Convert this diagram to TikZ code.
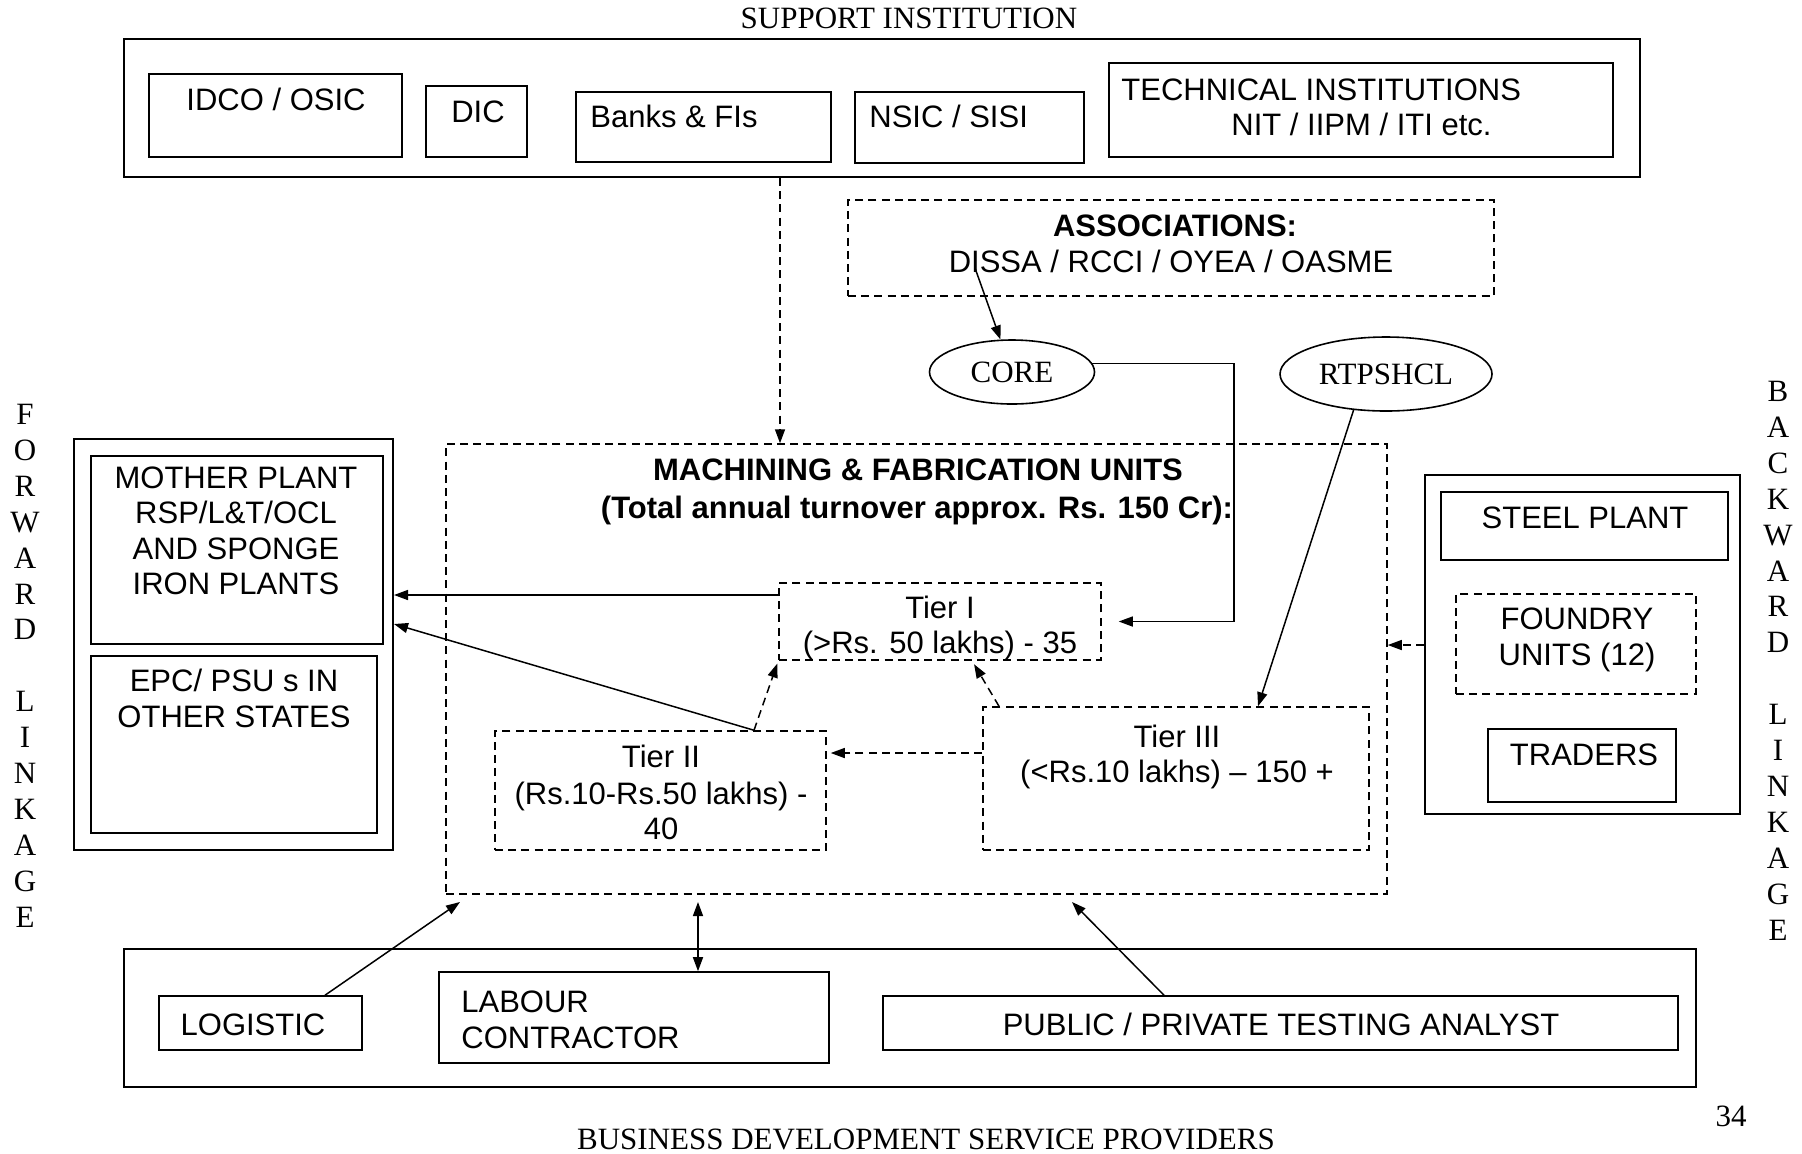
\documentclass[tikz,border=0pt]{standalone}
\usepackage{fontspec}
\setmainfont{Liberation Serif}
\newfontfamily\arialf{Liberation Sans}
\usetikzlibrary{arrows.meta,fit,shapes.geometric}
\tikzset{
 bx/.style={draw, line width=0.8pt, inner sep=0pt, rectangle},
 obx/.style={bx, line width=1pt},
 dbx/.style={draw, line width=0.75pt, dash pattern=on 4pt off 2.6pt, inner sep=0pt, rectangle},
 sf/.style={inner sep=0pt, anchor=base, font=\arialf\fontsize{15.5}{18}\selectfont},
 sfb/.style={inner sep=0pt, anchor=base, font=\arialf\bfseries\fontsize{15.5}{18}\selectfont},
 rm/.style={inner sep=0pt, anchor=base, font=\fontsize{15.5}{18}\selectfont},
 arr/.style={line width=0.75pt, -{Triangle[length=7pt,width=5pt]}},
 darr/.style={arr, dash pattern=on 4pt off 2.6pt},
 dbl/.style={line width=0.75pt, {Triangle[length=7pt,width=5pt]}-{Triangle[length=7pt,width=5pt]}},
 ell/.style={draw, ellipse, line width=0.8pt, inner sep=0pt, font=\fontsize{15.5}{18}\selectfont},
}
\begin{document}
\begin{tikzpicture}[x=0.5pt,y=-0.5pt]
\useasboundingbox (0,0) rectangle (1802,1153);

% ---------------- support institutions
\node[rm] (tsupp) at (909,28) {SUPPORT INSTITUTION};
\node[obx, fit={(124,39)(1640,177)}] (supp) {};
\node[bx, fit={(149,74)(402,157)}] (idco) {};
\node[bx, fit={(426,86)(527,157)}] (dic) {};
\node[bx, fit={(576,92)(831,162)}] (banks) {};
\node[bx, fit={(855,92)(1084,163)}] (nsic) {};
\node[bx, fit={(1109,63)(1613,157)}] (tech) {};
\node[sf] (tidco) at (276,110) {IDCO / OSIC};
\node[sf] (tdic) at (478,122) {DIC};
\node[sf, anchor=base west] (tbanks) at (590,127) {Banks \& FIs};
\node[sf, anchor=base west] (tnsic) at (869,127) {NSIC / SISI};
\node[sf, anchor=base west] (ttech1) at (1121,100) {TECHNICAL INSTITUTIONS};
\node[sf, anchor=base west] (ttech2) at (1231,135) {NIT / IIPM / ITI etc.};

% ---------------- associations
\node[dbx, fit={(848,200)(1494,296)}] (assoc) {};
\node[sfb] (tassoc1) at (1175,236) {ASSOCIATIONS:};
\node[sf] (tassoc2) at (1171,272) {DISSA / RCCI / OYEA / OASME};

\node[ell, minimum width=82.5pt, minimum height=32pt] (core) at (1012,372) {CORE};
\node[ell, minimum width=106pt, minimum height=37pt] (rtp) at (1386,374) {RTPSHCL};

% ---------------- machining & fabrication units
\node[dbx, fit={(446,444)(1387,894)}] (mfu) {};
\node[sfb] (tmfu1) at (918,480) {MACHINING \& FABRICATION UNITS};
\node[sfb] (tmfu2) at (917,518) {(Total annual turnover approx. Rs. 150 Cr):};

\node[dbx, fit={(779,583)(1101,660)}] (tier1) {};
\node[sf] (tt1a) at (940,618) {Tier I};
\node[sf] (tt1b) at (940,653) {(>Rs. 50 lakhs) - 35};

\node[dbx, fit={(495,731)(826,850)}] (tier2) {};
\node[sf] (tt2a) at (661,767) {Tier II};
\node[sf] (tt2b) at (661,804) {(Rs.10-Rs.50 lakhs) -};
\node[sf] (tt2c) at (661,839) {40};

\node[dbx, fit={(983,707)(1369,850)}] (tier3) {};
\node[sf] (tt3a) at (1177,747) {Tier III};
\node[sf] (tt3b) at (1177,782) {(<Rs.10 lakhs) – 150 +};

% ---------------- forward linkage
\node[obx, fit={(74,439)(393,850)}] (fwd) {};
\node[bx, fit={(91,456)(383,644)}] (mother) {};
\node[bx, fit={(91,656)(377,833)}] (epc) {};
\node[sf] (tm1) at (236,488) {MOTHER PLANT};
\node[sf] (tm2) at (236,523.5) {RSP/L\&T/OCL};
\node[sf] (tm3) at (236,559) {AND SPONGE};
\node[sf] (tm4) at (236,594.5) {IRON PLANTS};
\node[sf] (te1) at (234,691) {EPC/ PSU s IN};
\node[sf] (te2) at (234,727) {OTHER STATES};

\foreach \l/\i in {F/0,O/1,R/2,W/3,A/4,R/5,D/6,L/8,I/9,N/10,K/11,A/12,G/13,E/14}
  \node[rm] (fl\i) at (25,424.5+35.9*\i) {\l};

% ---------------- backward linkage
\node[obx, fit={(1425,475)(1740,814)}] (bwd) {};
\node[bx, fit={(1441,492)(1728,560)}] (steel) {};
\node[dbx, fit={(1456,594)(1696,694)}] (foundry) {};
\node[bx, fit={(1488,729)(1676,802)}] (traders) {};
\node[sf] (tsteel) at (1585,528) {STEEL PLANT};
\node[sf] (tf1) at (1577,629) {FOUNDRY};
\node[sf] (tf2) at (1577,665) {UNITS (12)};
\node[sf] (ttr) at (1584,765) {TRADERS};

\foreach \l/\i in {B/0,A/1,C/2,K/3,W/4,A/5,R/6,D/7,L/9,I/10,N/11,K/12,A/13,G/14,E/15}
  \node[rm] (bl\i) at (1778,401.5+35.9*\i) {\l};

% ---------------- business development service providers
\node[obx, fit={(124,949)(1696,1087)}] (bds) {};
\node[bx, fit={(159,996)(362,1050)}] (logistic) {};
\node[bx, fit={(439,972)(829,1063)}] (labour) {};
\node[bx, fit={(883,996)(1678,1050)}] (public) {};
\node[sf] (tlog) at (253,1035) {LOGISTIC};
\node[sf, anchor=base west] (tlab1) at (461,1012) {LABOUR};
\node[sf, anchor=base west] (tlab2) at (461,1048) {CONTRACTOR};
\node[sf] (tpub) at (1281,1035) {PUBLIC / PRIVATE TESTING ANALYST};
\node[rm] (tbds) at (926,1149) {BUSINESS DEVELOPMENT SERVICE PROVIDERS};
\node[rm] (tpage) at (1731,1126) {34};

% ---------------- connectors
\coordinate (cA) at (780,0);
\draw[darr] (cA |- supp.south) -- (cA |- mfu.north);

\coordinate (aS) at (975,268);
\draw[arr] (aS) -- (core);

\coordinate (cB) at (1234,0);
\draw[arr, shorten >=8.5pt] (core.6) -- (core.6 -| cB) |- (tier1.east);

\coordinate (cC) at (1258,0);
\draw[arr] (rtp.228) -- (cC |- tier3.north);

\coordinate (cD) at (0,595);
\draw[arr] (tier1.west |- cD) -- (fwd.east |- cD);

\coordinate (cE) at (754,0);
\coordinate (cF) at (0,624);
\draw[arr] (cE |- tier2.north) -- (fwd.east |- cF);
\draw[darr, shorten >=1.5pt] (cE |- tier2.north) -- (tier1.south west);

\coordinate (cG) at (999,0);
\coordinate (cH) at (972,0);
\draw[darr, shorten >=2pt] (cG |- tier3.north) -- (cH |- tier1.south);

\coordinate (cI) at (0,753);
\draw[darr, shorten >=2pt] (tier3.west |- cI) -- (tier2.east |- cI);

\coordinate (cJ) at (0,645);
\draw[darr] (bwd.west |- cJ) -- (mfu.east |- cJ);

\coordinate (tL) at (460,902);
\coordinate (cK) at (325,0);
\draw[arr] (cK |- logistic.north) -- (tL);

\coordinate (tM) at (698,902);
\draw[dbl] (tM) -- (tM |- labour.north);

\coordinate (tP) at (1072,902);
\coordinate (cL) at (1164,0);
\draw[arr] (cL |- public.north) -- (tP);
\end{tikzpicture}
\end{document}
